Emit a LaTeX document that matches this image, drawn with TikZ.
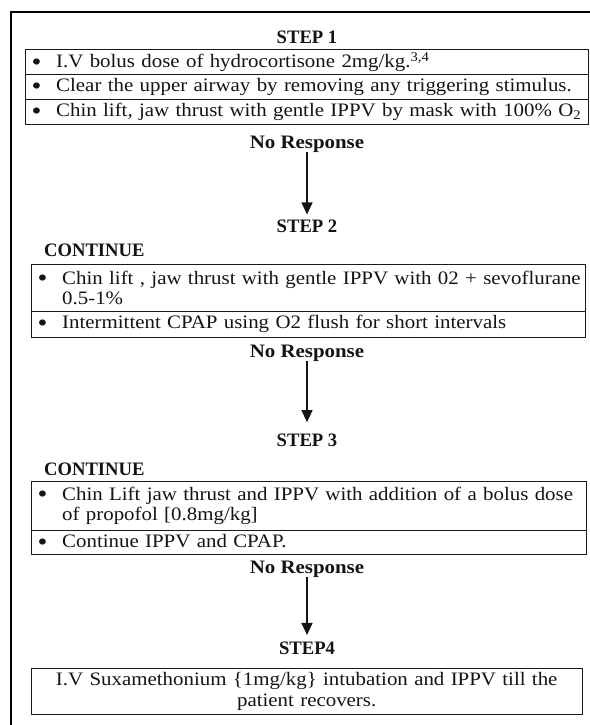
\documentclass[tikz,border=0pt]{standalone}
\usepackage{fontspec}
\setmainfont{Liberation Serif}[FakeStretch=1.1]
\newfontfamily\capbf{Liberation Serif}[FakeStretch=0.98]
\newfontfamily\nrbf{Liberation Serif}[FakeStretch=1.1]
\usetikzlibrary{arrows.meta}
\newcommand\bul{\hspace*{6.5pt}\makebox[24.5pt][l]{\raisebox{-2.3pt}{\scalebox{1.35}{\textbullet}}}}
\tikzset{
  rowbox/.style={draw=black!90, line width=1pt, anchor=north west, inner xsep=0pt, inner ysep=0pt,
    align=left, text=black!92, font=\fontsize{19}{20.5}\selectfont},
  headcap/.style={inner sep=0pt, text=black!92, font=\capbf\bfseries\fontsize{19}{20}\selectfont},
  headnr/.style={inner sep=0pt, text=black!92, font=\nrbf\bfseries\fontsize{19}{20}\selectfont},
  arr/.style={line width=1.2pt, draw=black!92, -{Triangle[length=12pt,width=11pt]}},
}
\begin{document}
\begin{tikzpicture}[x=1pt,y=-1pt]
\useasboundingbox (0,0) rectangle (589,725);
\fill[white] (0,0) rectangle (589,725);
% outer frame (runs off the right and bottom edges)
\draw[line width=2pt, black] (620,12) -- (11,12) -- (11,760);

% STEP 1
\node[headcap] (s1) at (307,37) {STEP 1};
\node[rowbox, text width=563.3pt, minimum height=25pt] (r11) at (24.7,49.3)
  {\bul I.V bolus dose of hydrocortisone 2mg/kg.\textsuperscript{3,4}};
\node[rowbox, text width=563.3pt, minimum height=25pt] (r12) at (24.7,74.3)
  {\bul Clear the upper airway by removing any triggering stimulus.};
\node[rowbox, text width=563.3pt, minimum height=25pt] (r13) at (24.7,99.3)
  {\bul Chin lift, jaw thrust with gentle IPPV by mask with 100\% O\textsubscript{2}};

\node[headnr] (nr1) at (307,144) {No Response};
\node[headcap] (s2) at (307,226) {STEP 2};
\draw[arr, shorten >=5pt] (nr1.south) -- (s2.north);

% STEP 2
\node[headcap, anchor=west] (c2) at (44,250) {CONTINUE};
\node[rowbox, text width=554.3pt, minimum height=47pt] (r21) at (30.7,264)
  {\bul Chin lift , jaw thrust with gentle IPPV with 02 + sevoflurane\\\hspace*{31pt}0.5-1\%};
\node[rowbox, text width=554.3pt, minimum height=25.7pt] (r22) at (30.7,311)
  {\bul Intermittent CPAP using O2 flush for short intervals};

\node[headnr] (nr2) at (307,353) {No Response};
\node[headcap] (s3) at (307,440.7) {STEP 3};
\draw[arr, shorten >=12pt] (nr2.south) -- (s3.north);

% STEP 3
\node[headcap, anchor=west] (c3) at (44,469.3) {CONTINUE};
\node[rowbox, text width=555.3pt, minimum height=49.3pt] (r31) at (30.7,480.7)
  {\bul Chin Lift jaw thrust and IPPV with addition of a bolus dose\\\hspace*{31pt}of propofol [0.8mg/kg]};
\node[rowbox, text width=555.3pt, minimum height=24pt] (r32) at (30.7,530)
  {\bul Continue IPPV and CPAP.};

\node[headnr] (nr3) at (307,569) {No Response};
\node[headcap] (s4) at (307,648) {STEP4};
\draw[arr, shorten >=6.5pt] (nr3.south) -- (s4.north);

% STEP 4
\node[rowbox, align=center, text width=551pt, minimum height=46pt] (r41) at (30.7,667.7)
  {I.V Suxamethonium \{1mg/kg\} intubation and IPPV till the\\patient recovers.};
\end{tikzpicture}
\end{document}
